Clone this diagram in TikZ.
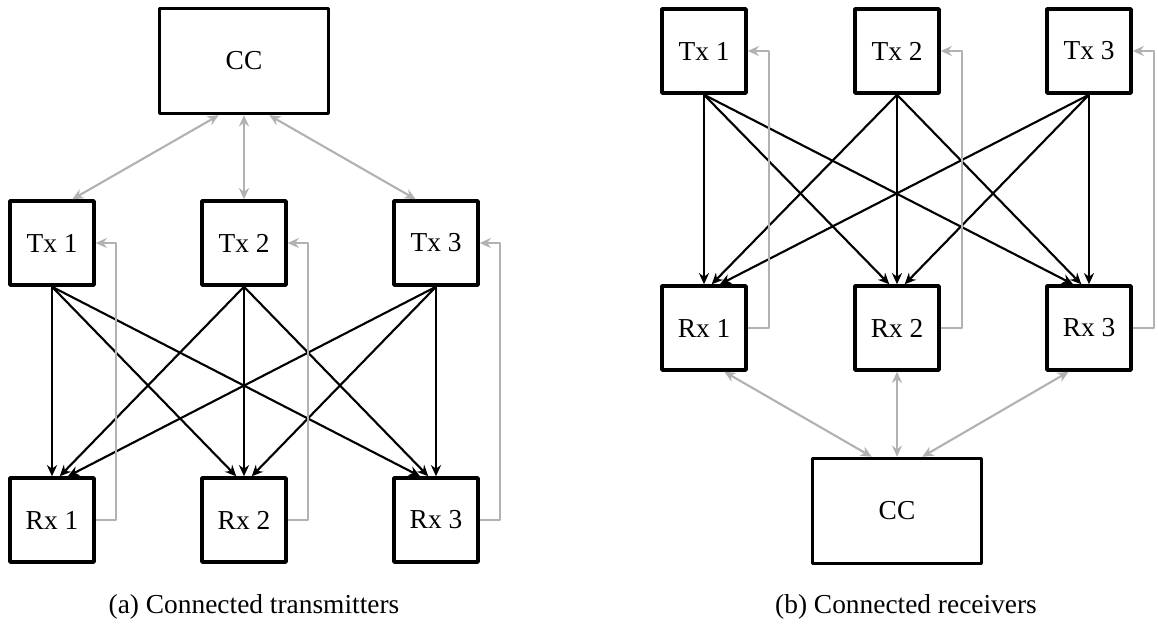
\documentclass[tikz,border=0pt]{standalone}
\usepackage{fontspec}
\setmainfont{Liberation Serif}
\usetikzlibrary{arrows.meta}
\begin{document}
\begin{tikzpicture}[>={Stealth[length=4.2pt,width=3.8pt]}, x=0.376pt, y=-0.376pt, line join=round,
        every node/.style={font=\fontsize{10.3pt}{12pt}\selectfont},
        blk/.style={draw, line width=1.3pt, minimum size=31.6pt, inner sep=0pt},
        ccblk/.style={blk, minimum width=63.5pt, minimum height=39.5pt},
        link/.style={->, line width=0.8pt},
        ctrl/.style={<->, line width=0.8pt, black!30},
        fb/.style={->, line width=0.8pt, black!30}]
    \useasboundingbox (0,0) rectangle (1158,628);
    % (a) transmitters tied to the CC
    \node[ccblk] (ccA) at (244,61) {CC};
    \foreach \i/\x in {1/52,2/244,3/436} {
        \node[blk] (txA\i) at (\x,243) {Tx \i};
        \node[blk] (rxA\i) at (\x,520) {Rx \i};
    }
    \foreach \i in {1,2,3} \foreach \j in {1,2,3} {
        \pgfmathtruncatemacro\ang{90+10*(\j-\i)}
        \draw[link] (txA\i.south) -- (rxA\j.\ang);
    }
    \foreach \i in {1,2,3} \draw[fb] (rxA\i.east) -- ++(20,0) |- (txA\i.east);
    \draw[ctrl] (ccA.245) -- (txA1.65);
    \draw[ctrl] (ccA.south) -- (txA2.north);
    \draw[ctrl] (ccA.295) -- (txA3.115);
    \node (capA) at (254,607) {(a) Connected transmitters};
    % (b) receivers tied to the CC
    \node[ccblk] (ccB) at (897,511) {CC};
    \foreach \i/\x in {1/704,2/897,3/1089} {
        \node[blk] (txB\i) at (\x,51) {Tx \i};
        \node[blk] (rxB\i) at (\x,328) {Rx \i};
    }
    \foreach \i in {1,2,3} \foreach \j in {1,2,3} {
        \pgfmathtruncatemacro\ang{90+10*(\j-\i)}
        \draw[link] (txB\i.south) -- (rxB\j.\ang);
    }
    \foreach \i in {1,2,3} \draw[fb] (rxB\i.east) -- ++(21,0) |- (txB\i.east);
    \draw[ctrl] (rxB1.295) -- (ccB.115);
    \draw[ctrl] (rxB2.south) -- (ccB.north);
    \draw[ctrl] (rxB3.245) -- (ccB.65);
    \node (capB) at (906,607) {(b) Connected receivers};
\end{tikzpicture}
\end{document}
